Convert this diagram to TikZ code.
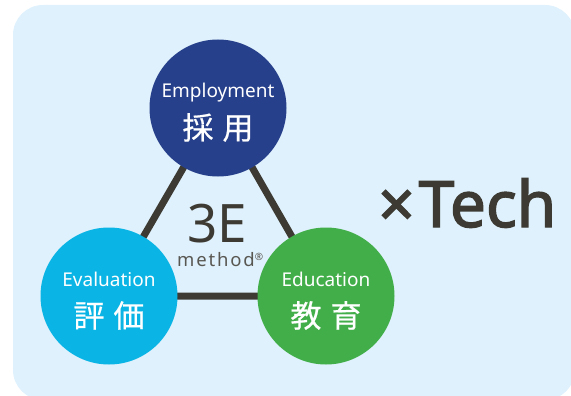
\documentclass[tikz,border=0pt]{standalone}
\usepackage{fontspec}
\setmainfont{Noto Sans}
\newfontfamily\jpfont{Noto Sans CJK JP}[FakeBold=0.6]
\newfontfamily\spacedfont{Noto Sans}[LetterSpace=10]
\newfontfamily\heavyfont{Noto Sans}[FakeBold=2.2]

\definecolor{panelblue}{HTML}{DFF1FC}
\definecolor{empblue}{HTML}{27408B}
\definecolor{evacyan}{HTML}{0AB4E4}
\definecolor{edugreen}{HTML}{42AE4A}
\definecolor{ink}{HTML}{3C3A33}

\tikzset{
  disc/.style={circle, minimum size=137pt, inner sep=0pt},
  link/.style={draw=ink, line width=7pt},
  entext/.style={text=white, font=\fontsize{19}{19}\selectfont, inner sep=0pt, anchor=base},
  jptext/.style={text=white, font=\jpfont\fontsize{31}{31}\selectfont, inner sep=0pt},
}

\begin{document}
\begin{tikzpicture}[x=1pt, y=-1pt]
\useasboundingbox (0,0) rectangle (571,396);

% light panel behind everything
\fill[panelblue, rounded corners=30pt] (13,5) rectangle (575,400);

% centres of the three pillars
\coordinate (cE) at (218,108);
\coordinate (cV) at (109,296);
\coordinate (cD) at (326,296);

% triangle joining the pillars
\draw[link] (cE) -- (cV) -- (cD) -- cycle;

% pillars
\node[disc, fill=empblue] (emp) at (cE) {};
\node[disc, fill=evacyan] (eva) at (cV) {};
\node[disc, fill=edugreen] (edu) at (cD) {};

% labels
\node[entext] (emp-en) at (218,97.5) {Employment};
\node[jptext] (emp-jp) at (218,127.5) {採\hspace{9pt}用};

\node[entext] (eva-en) at (109,286.5) {Evaluation};
\node[jptext] (eva-jp) at (109,315.5) {評\hspace{9pt}価};

\node[entext] (edu-en) at (326,286.5) {Education};
\node[jptext] (edu-jp) at (326,315.5) {教\hspace{9pt}育};

% centre mark
\node[text=ink, font=\fontsize{53}{53}\selectfont, inner sep=0pt, text depth=0pt, anchor=base] (three-e) at (217,242) {3E};
\node[text=ink!85, font=\spacedfont\fontsize{18.5}{18.5}\selectfont, inner sep=0pt, text height=13pt, anchor=base west] (method) at (177,266.5) {method\raisebox{6pt}{\fontsize{10}{10}\selectfont ®}};

% tagline
\node[text=ink, font=\heavyfont\fontsize{64}{64}\selectfont, inner sep=0pt, anchor=base west] (tech) at (378,227) {×\hspace{4pt}Tech};
\end{tikzpicture}
\end{document}
